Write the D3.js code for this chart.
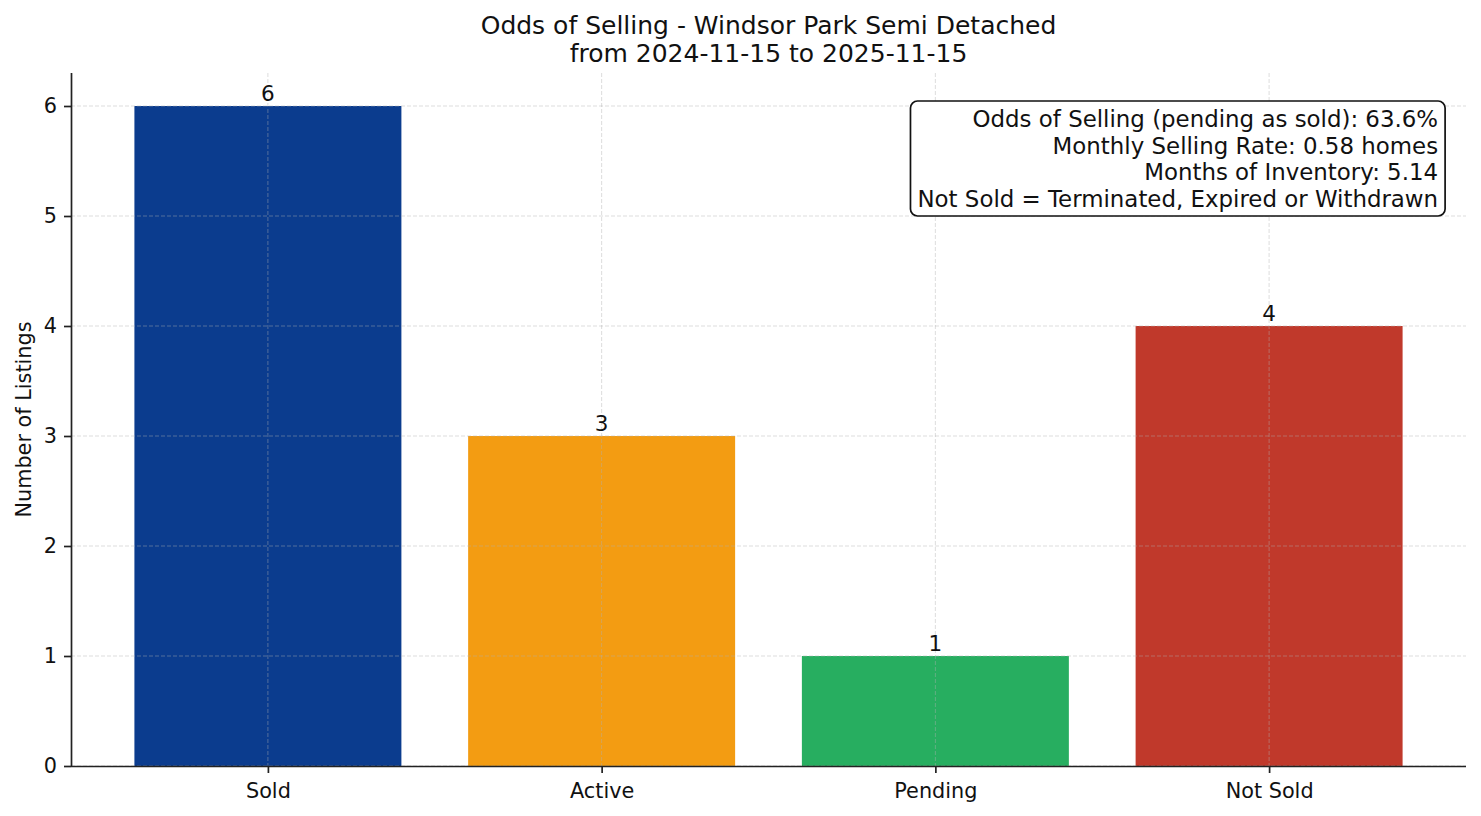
<!DOCTYPE html>
<html>
<head>
    <title>Odds of Selling</title>
    <script src="https://d3js.org/d3.v7.min.js"></script>
    <style>
        body { margin: 0; background: #fff; }
        svg { font-family: "DejaVu Sans", sans-serif; }
        .grid line {
            stroke: #b0b0b0;
            stroke-opacity: 0.55;
            stroke-width: 0.8px;
            stroke-dasharray: 4,2;
        }
        .axis path, .axis line { stroke: #222; }
    </style>
</head>
<body>
<svg width="1481" height="816"></svg>
<script>
    const categories = ["Sold", "Active", "Pending", "Not Sold"];
    const counts = [6, 3, 1, 4];
    const barColors = ["#0b3c8e", "#f39c12", "#27ae60", "#c0392b"];
    const yTicks = [0, 1, 2, 3, 4, 5, 6];
    const titleLines = ["Odds of Selling - Windsor Park Semi Detached", "from 2024-11-15 to 2025-11-15"];
    const statLines = [
        "Odds of Selling (pending as sold): 63.6%",
        "Monthly Selling Rate: 0.58 homes",
        "Months of Inventory: 5.14",
        "Not Sold = Terminated, Expired or Withdrawn"
    ];

    const svg = d3.select("svg");
    const margin = {top: 73, right: 15, bottom: 50, left: 71};
    const width = 1481 - margin.left - margin.right;
    const height = 816 - margin.top - margin.bottom;

    const g = svg.append("g").attr("transform", `translate(${margin.left},${margin.top})`);

    // matplotlib style: bars at integer positions, width 0.8, 5% margins
    const x = d3.scaleLinear().domain([-0.59, categories.length - 1 + 0.59]).range([0, width]);
    const y = d3.scaleLinear().domain([0, 6.3]).range([height, 0]);
    const barW = x(0.8) - x(0);

    g.selectAll("rect.bar")
        .data(counts)
        .enter().append("rect")
        .attr("class", "bar")
        .attr("x", (d, i) => x(i) - barW / 2)
        .attr("y", d => y(d))
        .attr("width", barW)
        .attr("height", d => y(0) - y(d))
        .attr("fill", (d, i) => barColors[i]);

    // grid on top of the bars
    const grid = g.append("g").attr("class", "grid");
    grid.selectAll("line.h")
        .data(yTicks)
        .enter().append("line")
        .attr("x1", 0).attr("x2", width)
        .attr("y1", d => y(d)).attr("y2", d => y(d));
    grid.selectAll("line.v")
        .data(categories)
        .enter().append("line")
        .attr("x1", (d, i) => x(i)).attr("x2", (d, i) => x(i))
        .attr("y1", 0).attr("y2", height);

    // bar value labels
    g.selectAll("text.val")
        .data(counts)
        .enter().append("text")
        .attr("x", (d, i) => x(i))
        .attr("y", d => y(d) - 5)
        .attr("text-anchor", "middle")
        .style("font-size", "21.5px")
        .attr("fill", "#111")
        .text(d => d);

    // axes
    const xAxis = g.append("g")
        .attr("class", "axis")
        .attr("transform", `translate(0,${height})`)
        .call(d3.axisBottom(x).tickValues(d3.range(categories.length))
            .tickFormat(i => categories[i]).tickSize(7).tickPadding(10).tickSizeOuter(0));
    xAxis.select(".domain").attr("d", `M0,0.5H${width}`);

    const yAxis = g.append("g")
        .attr("class", "axis")
        .call(d3.axisLeft(y).tickValues(yTicks).tickFormat(d3.format("d"))
            .tickSize(7).tickPadding(7).tickSizeOuter(0));
    yAxis.select(".domain").attr("d", `M0.5,0V${height}`);

    g.selectAll(".axis text")
        .attr("fill", "#111")
        .style("font-size", "20.8px")
        .style("font-family", "DejaVu Sans, sans-serif");
    g.selectAll(".axis path, .axis line").attr("stroke-width", 1.7);

    // y label
    svg.append("text")
        .attr("transform", `translate(31,${margin.top + height / 2}) rotate(-90)`)
        .attr("text-anchor", "middle")
        .style("font-size", "20.8px")
        .attr("fill", "#111")
        .text("Number of Listings");

    // title
    svg.append("g").selectAll("text")
        .data(titleLines)
        .enter().append("text")
        .attr("x", margin.left + width / 2)
        .attr("y", (d, i) => 34 + i * 28)
        .attr("text-anchor", "middle")
        .style("font-size", "25px")
        .attr("fill", "#111")
        .text(d => d);

    // stats box, top right
    const box = g.append("g");
    const tx = width * 0.98;
    const lineH = 26.7;
    const txt = box.selectAll("text")
        .data(statLines)
        .enter().append("text")
        .attr("x", tx)
        .attr("y", (d, i) => 54 + i * lineH)
        .attr("text-anchor", "end")
        .style("font-size", "22.9px")
        .attr("fill", "#111")
        .text(d => d);

    let minX = Infinity;
    txt.each(function() { minX = Math.min(minX, this.getBBox().x); });
    const pad = 7;
    box.insert("rect", "text")
        .attr("x", minX - pad)
        .attr("y", 28)
        .attr("width", tx - minX + 2 * pad)
        .attr("height", 115)
        .attr("rx", 7)
        .attr("fill", "#fff")
        .attr("stroke", "#111")
        .attr("stroke-width", 1.7);
</script>
</body>
</html>
